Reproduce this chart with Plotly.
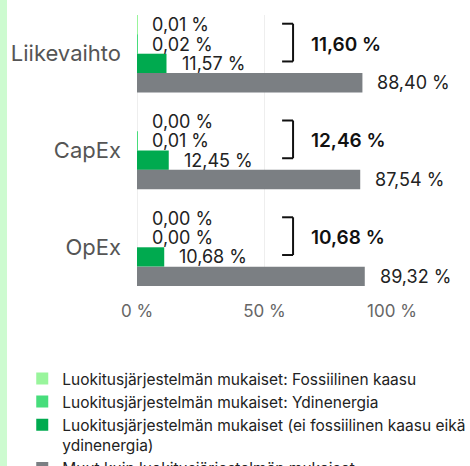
import plotly.graph_objects as go

categories = ["Liikevaihto", "CapEx", "OpEx"]
fossil = [0.01, 0.00, 0.00]
nuclear = [0.02, 0.01, 0.00]
aligned = [11.57, 12.45, 10.68]
other = [88.40, 87.54, 89.32]
totals = [11.60, 12.46, 10.68]
tick_vals = [0, 50, 100]
tick_text = ["0 %", "50 %", "100 %"]

series_names = [
    "Luokitusjärjestelmän mukaiset: Fossiilinen kaasu",
    "Luokitusjärjestelmän mukaiset: Ydinenergia",
    "Luokitusjärjestelmän mukaiset (ei fossiilinen kaasu eikä<br>ydinenergia)",
    "Muut kuin luokitusjärjestelmän mukaiset",
]
series_values = [fossil, nuclear, aligned, other]
colors = ["#99f59c", "#47dd7b", "#00aa4f", "#7b7f83"]

FONT = "Inter"

def fmt(v):
    return f"{v:.2f}".replace(".", ",") + " %"

fig = go.Figure()
for name, vals, col in zip(series_names, series_values, colors):
    fig.add_trace(go.Bar(
        y=categories, x=vals, name=name, orientation="h",
        marker=dict(color=col, line=dict(width=0)),
        hoverinfo="skip",
    ))

annotations = []
offsets = [-0.3, -0.1, 0.1, 0.3]
for k, vals in enumerate(series_values):
    for i, v in enumerate(vals):
        annotations.append(dict(
            x=v, y=i + offsets[k], xref="x", yref="y", text=fmt(v),
            showarrow=False, xanchor="left", yanchor="middle", xshift=13,
            font=dict(family=FONT, size=18, color="#222222"),
        ))

shapes = []
for i, t in enumerate(totals):
    y0, y1 = i - 0.31, i + 0.08
    xa, xb = 56.9, 61.2
    for (a, b, c, d) in [(xa, y0, xb, y0), (xb, y0, xb, y1), (xa, y1, xb, y1)]:
        shapes.append(dict(type="line", xref="x", yref="y", x0=a, y0=b, x1=c, y1=d,
                           line=dict(color="#111111", width=2)))
    annotations.append(dict(
        x=67.5, y=i - 0.1, xref="x", yref="y", text=fmt(t),
        showarrow=False, xanchor="left", yanchor="middle",
        font=dict(family=FONT, size=19, color="#111111", weight=600),
    ))

# left decorative strip
shapes.append(dict(type="rect", xref="paper", yref="paper",
                   x0=-137 / 255, x1=-130 / 255, y0=-2, y1=2,
                   fillcolor="#cdfbd0", line=dict(width=0), layer="below"))

fig.update_layout(
    width=470, height=466,
    margin=dict(l=137, r=78, t=15, b=180, autoexpand=False),
    paper_bgcolor="white", plot_bgcolor="white",
    barmode="group", bargap=0.2, bargroupgap=0,
    font=dict(family=FONT, color="#222222"),
    xaxis=dict(range=[0, 100], tickvals=tick_vals, ticktext=tick_text,
               showgrid=True, gridcolor="#eeeeee", gridwidth=1,
               zeroline=False, showline=False,
               tickfont=dict(size=17, color="#666666"),
               ticks="outside", ticklen=10, tickcolor="rgba(0,0,0,0)",
               fixedrange=True),
    yaxis=dict(range=[2.4, -0.4], showgrid=False, zeroline=False,
               showline=False, ticks="", ticklabelstandoff=15,
               tickfont=dict(size=22, color="#555555"), fixedrange=True),
    showlegend=True,
    legend=dict(x=-0.45, y=-0.28, xanchor="left", yanchor="top",
                orientation="v", traceorder="normal", valign="top",
                font=dict(family="Inter", size=15.5, color="#222222"),
                bgcolor="rgba(0,0,0,0)", itemclick=False, itemdoubleclick=False),
    annotations=annotations, shapes=shapes,
)

# zero line
fig.add_shape(type="line", xref="x", yref="paper", x0=0, x1=0, y0=0, y1=1,
              line=dict(color="#dddddd", width=1), layer="below")

fig.write_html("out.html", config={"displayModeBar": False},
               post_script="document.body.style.margin='0';document.body.style.overflow='hidden';")
